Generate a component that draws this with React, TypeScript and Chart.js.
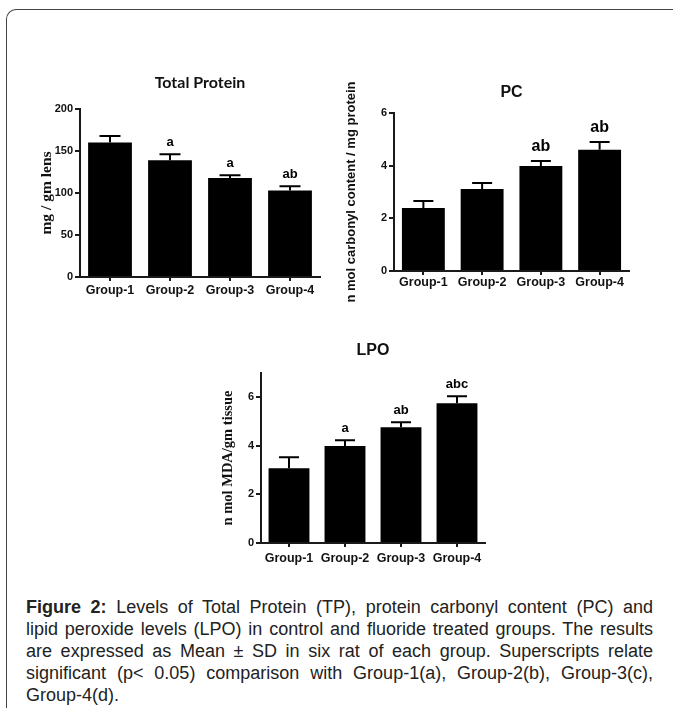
import React, { useEffect, useRef } from "react";
import { Chart, registerables } from "chart.js";
Chart.register(...registerables);

// ---------- data ----------
const groups = ["Group-1", "Group-2", "Group-3", "Group-4"];

const tpMean = [160, 139, 118, 103];
const tpSD = [8, 7, 3, 5];
const tpSig = ["", "a", "a", "ab"];
const tpTicks = [0, 50, 100, 150, 200];

const pcMean = [2.39, 3.11, 3.99, 4.6];
const pcSD = [0.27, 0.23, 0.19, 0.3];
const pcSig = ["", "", "ab", "ab"];
const pcTicks = [0, 2, 4, 6];

const lpoMean = [3.08, 3.99, 4.77, 5.75];
const lpoSD = [0.45, 0.24, 0.2, 0.29];
const lpoSig = ["", "a", "ab", "abc"];
const lpoTicks = [0, 2, 4, 6];

const captionLines = [
  "Levels of Total Protein (TP), protein carbonyl content (PC) and",
  "lipid peroxide levels (LPO) in control and fluoride treated groups. The results",
  "are expressed as Mean ± SD in six rat of each group. Superscripts relate",
  "significant (p< 0.05) comparison with Group-1(a), Group-2(b), Group-3(c),",
  "Group-4(d).",
];

const SANS = "'Liberation Sans', Arial, sans-serif";
const SERIF = "'Liberation Serif', 'Times New Roman', serif";
const AX = "#1a1a1a";

type PanelProps = {
  title: string;
  titleFont: string;
  titleY: number;
  yLabel: string;
  yLabelFamily: string;
  yLabelSize: number;
  yLabelPad: number;
  means: number[];
  sds: number[];
  sigs: string[];
  sigFont: string;
  sigGap: number;
  ticks: number[];
  yMax: number;
  left: number;
  top: number;
  yAxisWidth: number;
  plotWidth: number;
  plotHeight: number;
  padTop: number;
  padBottom: number;
  xPad: number;
  cap: number;
};

function Panel(p: PanelProps) {
  const ref = useRef<HTMLCanvasElement | null>(null);
  const width = p.yAxisWidth + p.plotWidth + 10;
  const height = p.padTop + p.plotHeight + 30 + p.padBottom;

  useEffect(() => {
    if (!ref.current) return;
    const overlay = {
      id: "panelOverlay",
      afterDatasetsDraw(chart: any) {
        const ctx = chart.ctx;
        const meta = chart.getDatasetMeta(0);
        const ys = chart.scales.y;
        const area = chart.chartArea;
        ctx.save();
        ctx.strokeStyle = "#000";
        ctx.fillStyle = "#000";
        ctx.lineWidth = 2;
        meta.data.forEach((bar: any, i: number) => {
          const x = bar.x;
          const y0 = ys.getPixelForValue(p.means[i]);
          const y1 = ys.getPixelForValue(p.means[i] + p.sds[i]);
          ctx.beginPath();
          ctx.moveTo(x, y0);
          ctx.lineTo(x, y1);
          ctx.moveTo(x - p.cap / 2, y1);
          ctx.lineTo(x + p.cap / 2, y1);
          ctx.stroke();
          if (p.sigs[i]) {
            ctx.font = p.sigFont;
            ctx.textAlign = "center";
            ctx.textBaseline = "alphabetic";
            ctx.fillText(p.sigs[i], x, y1 - p.sigGap);
          }
        });
        ctx.font = p.titleFont;
        ctx.textAlign = "center";
        ctx.textBaseline = "middle";
        ctx.fillStyle = "#111";
        ctx.fillText(p.title, (area.left + area.right) / 2, p.titleY);
        ctx.restore();
      },
    };
    const chart = new Chart(ref.current, {
      type: "bar",
      data: {
        labels: groups,
        datasets: [
          {
            data: p.means,
            backgroundColor: "#000",
            borderWidth: 0,
            barPercentage: 0.73,
            categoryPercentage: 1,
          },
        ],
      },
      options: {
        responsive: false,
        animation: false,
        devicePixelRatio: 1,
        layout: { padding: { top: p.padTop, right: 10, left: 0, bottom: p.padBottom } },
        plugins: { legend: { display: false }, tooltip: { enabled: false }, title: { display: false } },
        scales: {
          x: {
            offset: true,
            grid: {
              offset: false,
              drawOnChartArea: false,
              drawTicks: true,
              tickLength: 4,
              color: AX,
              lineWidth: 2,
            },
            border: { display: true, color: AX, width: 2 },
            ticks: {
              font: { family: SANS, weight: "bold", size: 12.5 },
              color: "#111",
              padding: p.xPad,
              maxRotation: 0,
              autoSkip: false,
            },
            afterFit: (s: any) => {
              s.height = 30;
            },
          },
          y: {
            min: 0,
            max: p.yMax,
            afterBuildTicks: (s: any) => {
              s.ticks = p.ticks.map((v) => ({ value: v }));
            },
            ticks: {
              font: { family: SANS, weight: "bold", size: 11 },
              color: "#111",
              padding: 2,
            },
            grid: {
              drawOnChartArea: false,
              drawTicks: true,
              tickLength: 5,
              color: AX,
              lineWidth: 2,
            },
            border: { display: true, color: AX, width: 2 },
            title: {
              display: true,
              text: p.yLabel,
              color: "#111",
              font: { family: p.yLabelFamily, weight: "bold", size: p.yLabelSize },
              padding: { top: p.yLabelPad, bottom: 0 },
            },
            afterFit: (s: any) => {
              s.width = p.yAxisWidth;
            },
          },
        },
      },
      plugins: [overlay],
    } as any);
    return () => chart.destroy();
  }, []);

  return (
    <canvas
      ref={ref}
      width={width}
      height={height}
      style={{ position: "absolute", left: p.left, top: p.top, width, height }}
    />
  );
}

export default function App() {
  return (
    <div
      style={{
        position: "absolute",
        left: 0,
        top: 0,
        width: 673,
        height: 708,
        overflow: "hidden",
        background: "#fff",
      }}
    >
      <div
        style={{
          position: "absolute",
          left: 6,
          top: 9,
          width: 800,
          height: 800,
          borderTop: "1.5px solid #444",
          borderLeft: "1.5px solid #444",
          borderTopLeftRadius: 10,
        }}
      />
      <Panel
        title="Total Protein"
        titleFont={"bold 16px Lato, 'Open Sans', sans-serif"}
        titleY={13}
        yLabel="mg / gm lens"
        yLabelFamily={SERIF}
        yLabelSize={15.5}
        yLabelPad={18}
        means={tpMean}
        sds={tpSD}
        sigs={tpSig}
        sigFont={"bold 13px " + SANS}
        sigGap={8}
        ticks={tpTicks}
        yMax={200}
        left={20}
        top={70}
        yAxisWidth={60}
        plotWidth={240}
        plotHeight={168}
        padTop={39}
        padBottom={0}
        xPad={2}
        cap={21}
      />
      <Panel
        title="PC"
        titleFont={"bold 16px " + SANS}
        titleY={23}
        yLabel="n mol carbonyl content / mg protein"
        yLabelFamily={SANS}
        yLabelSize={13}
        yLabelPad={9}
        means={pcMean}
        sds={pcSD}
        sigs={pcSig}
        sigFont={"bold 16px " + SANS}
        sigGap={10}
        ticks={pcTicks}
        yMax={6}
        left={335}
        top={70}
        yAxisWidth={59}
        plotWidth={235}
        plotHeight={158}
        padTop={43}
        padBottom={10}
        xPad={0}
        cap={20}
      />
      <Panel
        title="LPO"
        titleFont={"bold 16px " + SANS}
        titleY={21}
        yLabel="n mol MDA/gm tissue"
        yLabelFamily={SERIF}
        yLabelSize={14.5}
        yLabelPad={30}
        means={lpoMean}
        sds={lpoSD}
        sigs={lpoSig}
        sigFont={"bold 13px " + SANS}
        sigGap={8}
        ticks={lpoTicks}
        yMax={7}
        left={190}
        top={330}
        yAxisWidth={71}
        plotWidth={224}
        plotHeight={170}
        padTop={43}
        padBottom={0}
        xPad={4}
        cap={20}
      />
      <div
        style={{
          position: "absolute",
          left: 26,
          top: 596,
          width: 627,
          fontFamily: SANS,
          fontSize: 18,
          lineHeight: "22px",
          color: "#222",
        }}
      >
        {captionLines.map((line, i) => (
          <div
            key={i}
            style={{
              whiteSpace: "nowrap",
              textAlign: "justify",
              textAlignLast: i === captionLines.length - 1 ? "left" : "justify",
            }}
          >
            {i === 0 ? (
              <>
                <b>Figure 2:</b> {line}
              </>
            ) : (
              line
            )}
          </div>
        ))}
      </div>
    </div>
  );
}
